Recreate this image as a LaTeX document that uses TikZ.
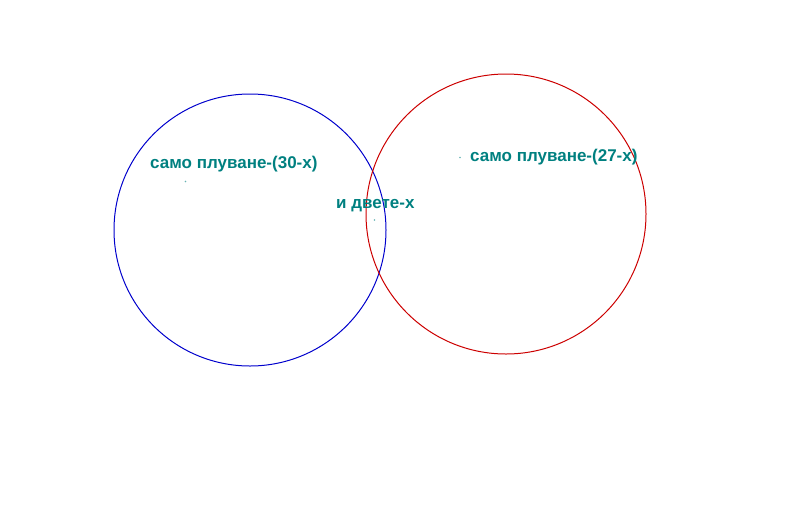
\documentclass[tikz,border=0pt]{standalone}
\usepackage{fontspec}
\setmainfont{Liberation Sans}
\definecolor{tealtext}{RGB}{0,128,128}
\definecolor{setblue}{RGB}{0,0,204}
\definecolor{setred}{RGB}{204,0,0}
\begin{document}
\begin{tikzpicture}[x=1pt,y=-1pt,
  setlabel/.style={anchor=base west,inner sep=0pt,text=tealtext,font=\fontsize{17}{20}\selectfont\bfseries},
  pt/.style={circle,fill=tealtext!60,inner sep=0pt,minimum size=1.6pt}]
\useasboundingbox (0,0) rectangle (790,523);
\draw[setblue,line width=1pt] (250,230) circle (136);
\draw[setred,line width=1pt] (506,214) circle (140);

\path (185.5,181.5) node[pt] (A) {};
\path (150,168) node[setlabel] (A0) {само плуване-(30-х)};
\path (460,157.5) node[pt] (B) {};
\path (470,161) node[setlabel] (B0) {само плуване-(27-х)};
\path (374.5,220) node[pt] (C) {};
\path (336,208) node[setlabel] (C0) {и двете-х};
\end{tikzpicture}
\end{document}
